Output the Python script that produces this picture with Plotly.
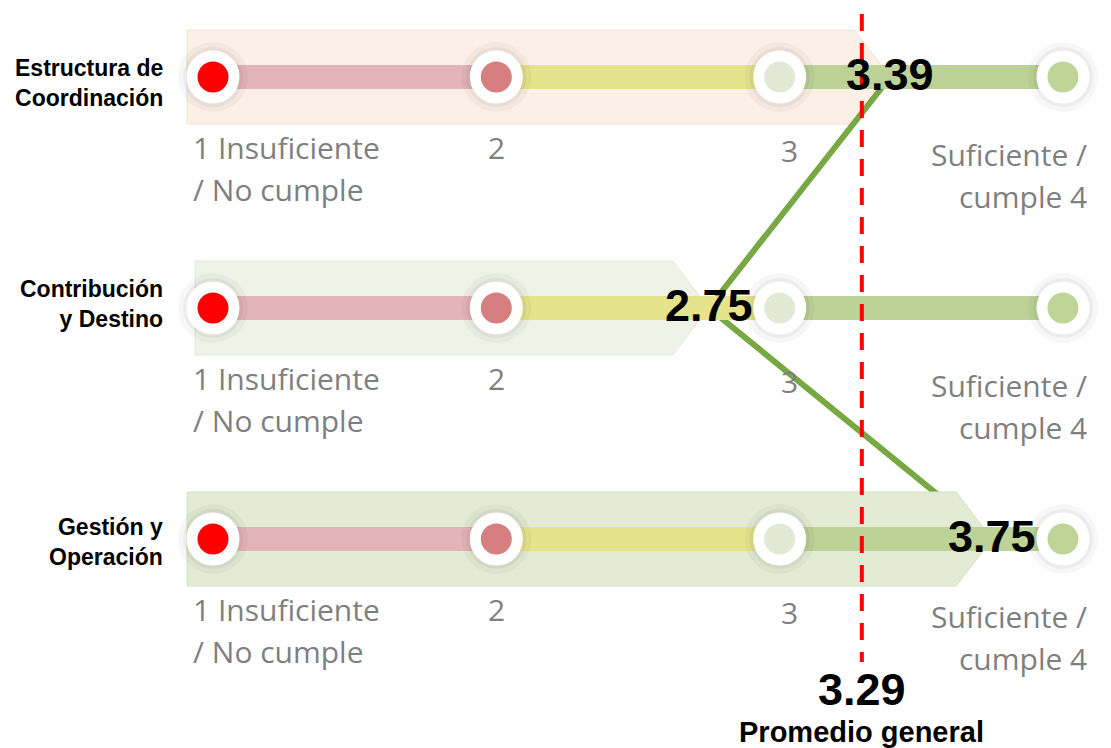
import plotly.graph_objects as go

# ---------------- data ----------------
rows = ["Estructura de<br>Coordinación", "Contribución<br>y Destino", "Gestión y<br>Operación"]
scores = [3.39, 2.75, 3.75]
score_labels = ["3.39", "2.75", "3.75"]
average = 3.29
average_label = "3.29"
average_title = "Promedio general"
levels = [1, 2, 3, 4]
low_label = ["1 Insuficiente", "/ No cumple"]
mid_labels = ["2", "3"]
high_label = ["Suficiente /", "cumple 4"]

# ---------------- styling ----------------
segment_colors = ["#e3b5b7", "#e5e48d", "#bdd297"]
circle_colors = ["#ff0000", "#d77f80", "#e2ead6", "#bfd597"]
band_colors = ["#fcefe6", "#eff3e7", "#e3ebd4"]
band_edges = ["#eee2d6", "#e2e8d8", "#d6dfc4"]
connector_color = "#78a843"
tick_color = "#7f7f7f"

W, H = 1111, 748
X1_PX, UNIT_PX = 213, 283.33          # pixel of level 1, pixels per level
ROW0_PX, ROW_PX = 77, 231             # pixel of first row, pixels between rows
row_label_shift_px = [-6, 4, -3]      # fine vertical shift of row names


def dx(px):
    return px / UNIT_PX


def dy(px):
    return px / ROW_PX


band_left_px = [187, 195, 187]
band_half_px = 47
notch_px = 36

fig = go.Figure()


def band_trace(i):
    s = scores[i]
    left = 1 + dx(band_left_px[i] - X1_PX)
    top, bot = i - dy(band_half_px), i + dy(band_half_px)
    xs = [left, s - dx(notch_px), s, s - dx(notch_px), left, left]
    ys = [top, top, i, bot, bot, top]
    return go.Scatter(x=xs, y=ys, mode="lines", fill="toself",
                      fillcolor=band_colors[i],
                      line=dict(color=band_edges[i], width=1),
                      hoverinfo="skip", showlegend=False)


fig.add_trace(band_trace(0))
fig.add_trace(band_trace(1))

# connector line between the scores
fig.add_trace(go.Scatter(x=scores, y=list(range(len(rows))), mode="lines",
                         line=dict(color=connector_color, width=6),
                         hoverinfo="skip", showlegend=False))

fig.add_trace(band_trace(2))

# tracks
for i in range(len(rows)):
    for k in range(len(levels) - 1):
        fig.add_trace(go.Scatter(x=[levels[k], levels[k + 1]], y=[i, i], mode="lines",
                                 line=dict(color=segment_colors[k], width=24),
                                 hoverinfo="skip", showlegend=False))

# circles with soft shadow
for i in range(len(rows)):
    fig.add_trace(go.Scatter(x=levels, y=[i] * len(levels), mode="markers",
                             marker=dict(size=70, color="rgba(0,0,0,0.03)", line=dict(width=0)),
                             hoverinfo="skip", showlegend=False))
    fig.add_trace(go.Scatter(x=levels, y=[i] * len(levels), mode="markers",
                             marker=dict(size=60, color="rgba(0,0,0,0.045)", line=dict(width=0)),
                             hoverinfo="skip", showlegend=False))
    fig.add_trace(go.Scatter(x=levels, y=[i] * len(levels), mode="markers",
                             marker=dict(size=42, color=circle_colors,
                                         line=dict(color="white", width=11)),
                             hoverinfo="skip", showlegend=False))

ann = []
tick_font = dict(family="Open Sans, Lato, sans-serif", size=30, color=tick_color)
bold = "Arial, Liberation Sans, sans-serif"
for i, name in enumerate(rows):
    ann.append(dict(x=1 + dx(165 - X1_PX), y=i + dy(-row_label_shift_px[i]), text=name,
                    xanchor="right", yanchor="middle", showarrow=False, align="right",
                    font=dict(family=bold, size=23, color="black", weight="bold")))
    ann.append(dict(x=1 + dx(191 - X1_PX), y=i + dy(70), text=low_label[0], xanchor="left",
                    yanchor="middle", showarrow=False, font=tick_font))
    ann.append(dict(x=1 + dx(191 - X1_PX), y=i + dy(112), text=low_label[1], xanchor="left",
                    yanchor="middle", showarrow=False, font=tick_font))
    ann.append(dict(x=levels[1], y=i + dy(70), text=mid_labels[0], xanchor="center",
                    yanchor="middle", showarrow=False, font=tick_font))
    ann.append(dict(x=levels[2] + dx(10), y=i + dy(73), text=mid_labels[1], xanchor="center",
                    yanchor="middle", showarrow=False, font=tick_font))
    ann.append(dict(x=levels[3] + dx(26), y=i + dy(77), text=high_label[0], xanchor="right",
                    yanchor="middle", showarrow=False, font=tick_font))
    ann.append(dict(x=levels[3] + dx(26), y=i + dy(119), text=high_label[1], xanchor="right",
                    yanchor="middle", showarrow=False, font=tick_font))
    ann.append(dict(x=scores[i], y=i - dy(3), text=score_labels[i], xanchor="center",
                    yanchor="middle", showarrow=False,
                    font=dict(family=bold, size=45, color="black", weight="bold")))

ann.append(dict(x=average, y=dy(689 - ROW0_PX), text=average_label, xanchor="center",
                yanchor="middle", showarrow=False,
                font=dict(family=bold, size=45, color="black", weight="bold")))
ann.append(dict(x=average, y=dy(732 - ROW0_PX), text=average_title, xanchor="center",
                yanchor="middle", showarrow=False,
                font=dict(family=bold, size=29, color="black", weight="bold")))

fig.add_shape(type="line", x0=average, x1=average, y0=dy(14 - ROW0_PX), y1=dy(662 - ROW0_PX),
              xref="x", yref="y", line=dict(color="#ff0000", width=4, dash="17px,12px"),
              layer="above")

fig.update_layout(
    width=W, height=H,
    margin=dict(l=0, r=0, t=0, b=0),
    paper_bgcolor="white", plot_bgcolor="white",
    annotations=ann,
    xaxis=dict(range=[1 - dx(X1_PX), 1 + dx(W - X1_PX)], visible=False, fixedrange=True),
    yaxis=dict(range=[dy(H - ROW0_PX), -dy(ROW0_PX)], visible=False, fixedrange=True),
    showlegend=False,
)

fig.write_html(
    "out.html",
    config={"displayModeBar": False},
    post_script="document.body.style.margin='0';document.body.style.overflow='hidden';"
                "document.documentElement.style.overflow='hidden';",
)
